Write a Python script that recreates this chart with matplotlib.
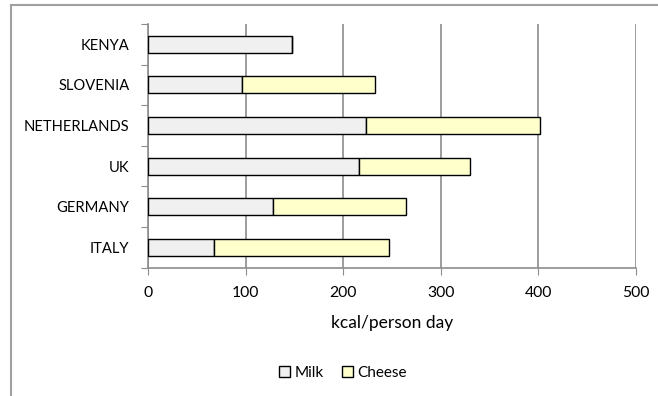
import matplotlib.pyplot as plt
from matplotlib.patches import Patch
from matplotlib.lines import Line2D

plt.rcParams['font.family'] = ['Lato', 'DejaVu Sans']

# kcal per person per day, bottom to top
countries = ['ITALY', 'GERMANY', 'UK', 'NETHERLANDS', 'SLOVENIA', 'KENYA']
milk = [67, 128, 216, 223, 96, 147]
cheese = [180, 136, 114, 179, 137, 0]

milk_color = '#F0F0F0'
cheese_color = '#FFFFCC'
grid_color = '#8C8C8C'

fig = plt.figure(figsize=(6.58, 3.96), dpi=100)
ax = fig.add_axes([148.3 / 658, 1 - 267.7 / 396, (635.7 - 148.3) / 658, (267.7 - 24) / 396])

pos = list(range(len(countries)))
ax.barh(pos, milk, height=0.42, color=milk_color, edgecolor='black', linewidth=1, label='Milk', zorder=3)
ax.barh(pos, cheese, left=milk, height=0.42, color=cheese_color, edgecolor='black', linewidth=1,
        label='Cheese', zorder=3)

ax.set_xlim(0, 500)
ax.set_ylim(-0.5, len(countries) - 0.5)
ax.set_xticks([0, 100, 200, 300, 400, 500])
ax.set_yticks([p - 0.5 for p in pos] + [len(countries) - 0.5])
ax.set_yticklabels([])
ax.set_yticks(pos, minor=True)
ax.set_yticklabels(countries, minor=True)
ax.tick_params(axis='y', which='minor', length=0, pad=13.5, labelsize=10.6)
ax.tick_params(axis='y', which='major', length=5, color=grid_color)
ax.tick_params(axis='x', length=5, color=grid_color, labelsize=11.3, pad=8)

ax.grid(axis='x', color=grid_color, linewidth=1.2, zorder=0)
for side in ['top', 'right']:
    ax.spines[side].set_visible(False)
for side in ['left', 'bottom']:
    ax.spines[side].set_color(grid_color)
    ax.spines[side].set_linewidth(1.2)

ax.set_xlabel('kcal/person day', fontsize=12.5, labelpad=11)

handles = [Patch(facecolor=milk_color, edgecolor='black', label='Milk'),
           Patch(facecolor=cheese_color, edgecolor='black', label='Cheese')]
fig.legend(handles=handles, loc='center', bbox_to_anchor=(343 / 658, 1 - 373 / 396), ncol=2,
           frameon=False, fontsize=11, handlelength=0.7, handleheight=0.7, handletextpad=0.3,
           columnspacing=1.2)

# chart area border
fig.add_artist(Line2D([11 / 658, 11 / 658], [0, 1 - 4.5 / 396], color='#A0A0A0', linewidth=1.5,
                      transform=fig.transFigure))
fig.add_artist(Line2D([11 / 658, 1], [1 - 4.5 / 396, 1 - 4.5 / 396], color='#A0A0A0', linewidth=1.5,
                      transform=fig.transFigure))

fig.savefig('out.png', dpi=100)
